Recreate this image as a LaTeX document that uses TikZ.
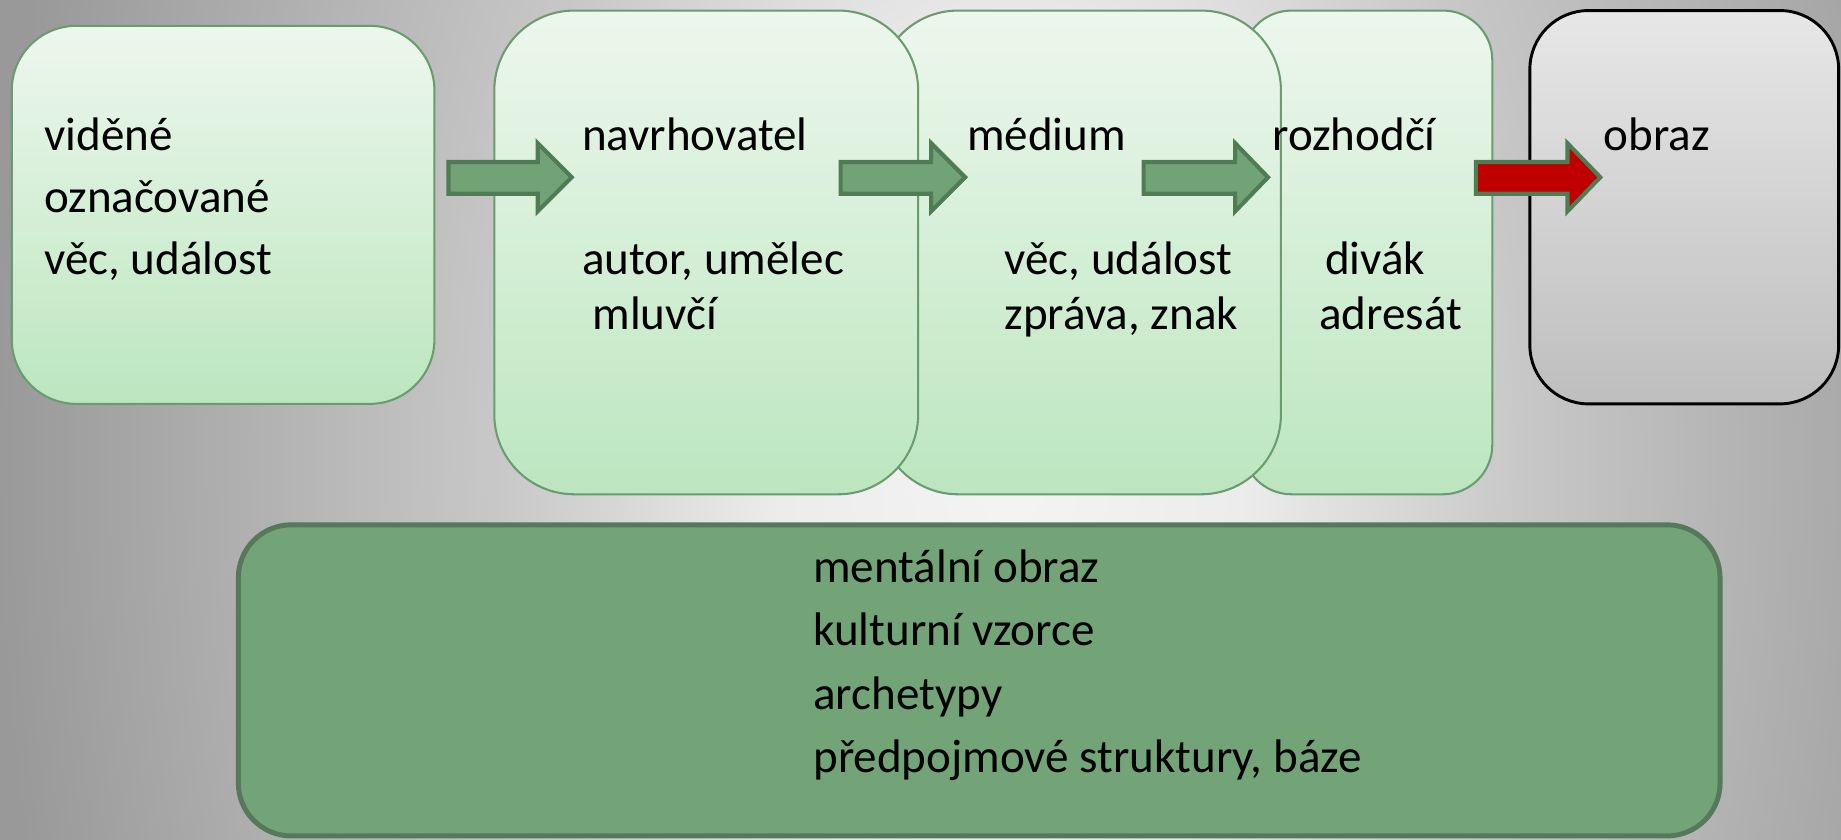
\documentclass[tikz,border=0pt]{standalone}
\usepackage{fontspec}
\setmainfont{Carlito}
\definecolor{bgA}{HTML}{F4F4F4}
\definecolor{bgB}{HTML}{ECECEC}
\definecolor{bgC}{HTML}{C8C8C8}
\definecolor{bgD}{HTML}{999999}
\definecolor{lgTop}{HTML}{EDF7ED}
\definecolor{lgBot}{HTML}{BCE6BF}
\definecolor{lgLine}{HTML}{6A9C6F}
\definecolor{arFill}{HTML}{71A377}
\definecolor{arLine}{HTML}{4F7B55}
\definecolor{arRed}{HTML}{C00000}
\definecolor{bbFill}{HTML}{72A478}
\definecolor{bbLine}{HTML}{55795A}
\definecolor{gyTop}{HTML}{E7E7E7}
\definecolor{gyBot}{HTML}{BEBEBE}
\pgfdeclareradialshading{bgshade}{\pgfpoint{0bp}{0bp}}{color(0bp)=(bgA); color(5.5bp)=(bgB); color(12bp)=(bgC); color(24bp)=(bgD); color(50bp)=(bgD)}
\begin{document}
\begin{tikzpicture}[x=0.01cm,y=0.01cm,
  lightbox/.style={draw=lgLine, line width=0.5pt, top color=lgTop, bottom color=lgBot},
  graybox/.style={draw=black, line width=0.7pt, top color=gyTop, bottom color=gyBot, rounded corners=0.5cm},
  basebox/.style={draw=bbLine, line width=1.2pt, fill=bbFill, rounded corners=0.45cm},
  blockarrow/.style={draw=arLine, line width=1pt, fill=arFill, line join=miter},
  redarrow/.style={blockarrow, fill=arRed},
  txt/.style={anchor=base west, inner sep=0pt, font=\fontsize{11.4}{14}\selectfont, text=black}]
\useasboundingbox (0,0) rectangle (1568,715);
\begin{scope}
\clip (0,0) rectangle (1568,715);
\shade[shading=bgshade] (-40,-1170) rectangle (1760,1830);
\end{scope}
% boxes
\draw[lightbox, rounded corners=0.55cm] (10,371) rectangle (370,693);
\draw[lightbox, rounded corners=0.42cm] (1058,294) rectangle (1271,706);
\draw[lightbox, rounded corners=0.68cm] (748,294) rectangle (1091,706);
\draw[lightbox, rounded corners=0.68cm] (421,294) rectangle (782,706);
\draw[graybox] (1303,371) rectangle (1566,706);
\draw[basebox] (203,3) rectangle (1465,268);
% named box anchors
\coordinate (b1) at (370,564);
\coordinate (b2) at (782,564);
% arrows
\draw[blockarrow] (382,550) -- (382,577) -- (458,577) -- (458,593) -- (487,564) -- (458,535) -- (458,550) -- cycle;
\draw[blockarrow] (716,550) -- (716,577) -- (793,577) -- (793,593) -- (822,564) -- (793,535) -- (793,550) -- cycle;
\draw[blockarrow] (974,550) -- (974,577) -- (1052,577) -- (1052,593) -- (1080,564) -- (1052,535) -- (1052,550) -- cycle;
\draw[redarrow] (1257,550) -- (1257,577) -- (1335,577) -- (1335,593) -- (1363,564) -- (1335,535) -- (1335,550) -- cycle;
% texts
\node[txt] (t1a) at (37,587) {viděné};
\node[txt] (t1b) at (37,534) {označované};
\node[txt] (t1c) at (37,481) {věc, událost};
\node[txt] (t2a) at (495,587) {navrhovatel};
\node[txt] (t2b) at (495,481) {autor, umělec};
\node[txt] (t2c) at (504,434) {mluvčí};
\node[txt] (t3a) at (823,587) {médium};
\node[txt] (t3b) at (855,481) {věc, událost};
\node[txt] (t3c) at (855,434) {zpráva, znak};
\node[txt] (t4a) at (1083,587) {rozhodčí};
\node[txt] (t4b) at (1128,481) {divák};
\node[txt] (t4c) at (1123,434) {adresát};
\node[txt] (t5a) at (1365,587) {obraz};
\node[txt] (t6a) at (692,219) {mentální obraz};
\node[txt] (t6b) at (692,165) {kulturní vzorce};
\node[txt] (t6c) at (692,111) {archetypy};
\node[txt] (t6d) at (692,57) {předpojmové struktury, báze};
\end{tikzpicture}
\end{document}
